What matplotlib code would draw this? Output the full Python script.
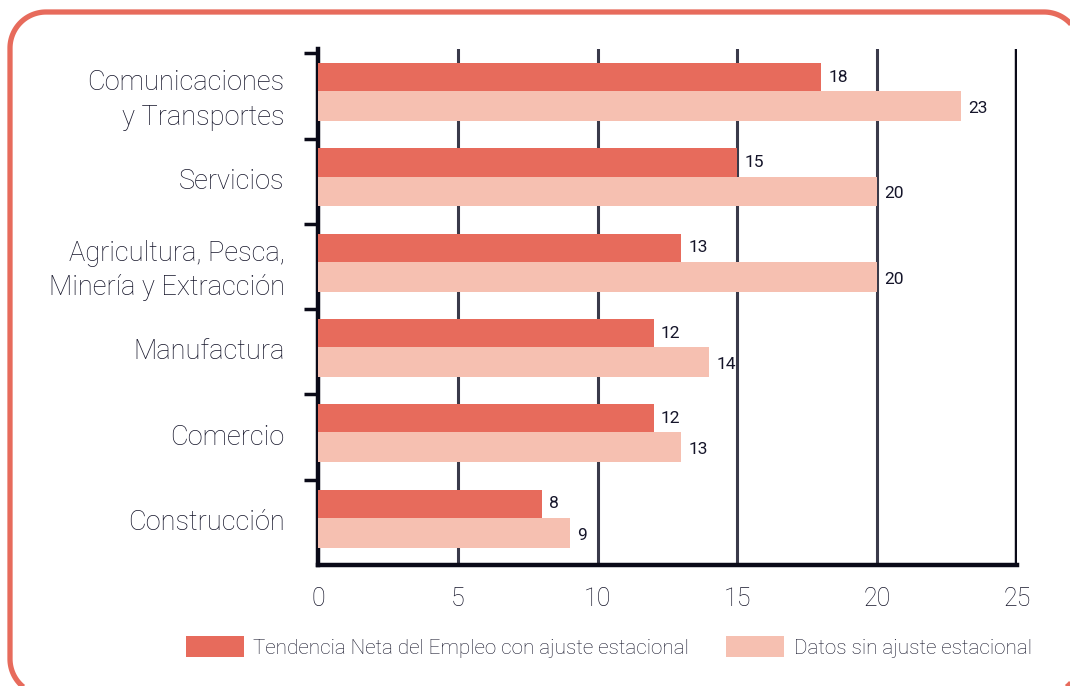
import matplotlib
matplotlib.use("Agg")
import matplotlib.pyplot as plt
from matplotlib.patches import PathPatch, Patch
from matplotlib.path import Path
from matplotlib.transforms import IdentityTransform
import numpy as np

categories = ["Comunicaciones\ny Transportes", "Servicios",
              "Agricultura, Pesca,\nMinería y Extracción", "Manufactura",
              "Comercio", "Construcción"]
adjusted = [18, 15, 13, 12, 12, 8]
unadjusted = [23, 20, 20, 14, 13, 9]
xticks = [0, 5, 10, 15, 20, 25]
legend_labels = ["Tendencia Neta del Empleo con ajuste estacional",
                 "Datos sin ajuste estacional"]

DARK = "#E76B5C"
LIGHT = "#F6C0B1"
TXT = "#15152a"

plt.rcParams['font.family'] = ['Roboto', 'DejaVu Sans']
plt.rcParams['font.weight'] = 'light'

W, H = 1070, 686
fig = plt.figure(figsize=(W/100, H/100), dpi=100)
ax = fig.add_axes([318/W, 1-565/H, (1017-318)/W, (565-49)/H])

n = len(categories)
pos = np.arange(n)[::-1]
ax.barh(pos + 0.22, adjusted, height=0.33, color=DARK, zorder=3)
ax.barh(pos - 0.12, unadjusted, height=0.35, color=LIGHT, zorder=3)

for p, v in zip(pos, adjusted):
    ax.text(v + 0.25, p + 0.22, str(v), va='center', ha='left', fontsize=12.5,
            color=TXT, fontweight='normal', zorder=4)
for p, v in zip(pos, unadjusted):
    ax.text(v + 0.25, p - 0.15, str(v), va='center', ha='left', fontsize=12.5,
            color=TXT, fontweight='normal', zorder=4)

ax.set_xlim(0, 25)
ax.set_ylim(-0.5, 5.55)

for x in [5, 10, 15, 20]:
    ax.axvline(x, color="#3a3a4a", lw=2.2, zorder=1)
ax.axvline(25, color="#0a0a18", lw=3.2, zorder=1)

for s in ['top', 'right']:
    ax.spines[s].set_visible(False)
for s in ['left', 'bottom']:
    ax.spines[s].set_color("#0a0a18")
    ax.spines[s].set_linewidth(3.2)

ax.set_xticks(xticks)
ax.set_xticklabels([str(t) for t in xticks], fontsize=18, color=TXT)
ax.tick_params(axis='x', length=0, pad=16)

ax.set_yticks(pos + 0.035)
ax.set_yticklabels(categories, fontsize=19.6, color=TXT, linespacing=1.38)
ax.tick_params(axis='y', which='major', length=0, pad=24)
ax.set_yticks(np.arange(0.5, 6, 1.0), minor=True)
ax.tick_params(axis='y', which='minor', length=10, width=2.5, color="#0a0a18")

handles = [Patch(facecolor=DARK), Patch(facecolor=LIGHT)]
fig.legend(handles, legend_labels, loc='center', bbox_to_anchor=(0.569, 1-647/H),
           ncol=2, frameon=False, fontsize=14.9, handlelength=2.8, handleheight=1.15,
           handletextpad=0.45, columnspacing=1.8, labelcolor=TXT)

# rounded border, built as an explicit path in pixel coordinates (y up)
r = 36
x0, x1 = 10, 1080
ytop, ybot = H - 12, H - 695
def arc(cx, cy, a0, a1):
    t = np.linspace(np.radians(a0), np.radians(a1), 30)
    return np.column_stack([cx + r*np.cos(t), cy + r*np.sin(t)])
pts = np.vstack([arc(x1 - r, ytop - r, 0, 90),
                 arc(x0 + r, ytop - r, 90, 180),
                 arc(x0 + r, ybot + r, 180, 270),
                 arc(x1 - r, ybot + r, 270, 360)])
pts = np.vstack([pts, pts[:1]])
border = PathPatch(Path(pts), transform=IdentityTransform(), fill=False,
                   edgecolor=DARK, lw=3.8)
fig.patches.append(border)

fig.savefig("out.png", dpi=100)
